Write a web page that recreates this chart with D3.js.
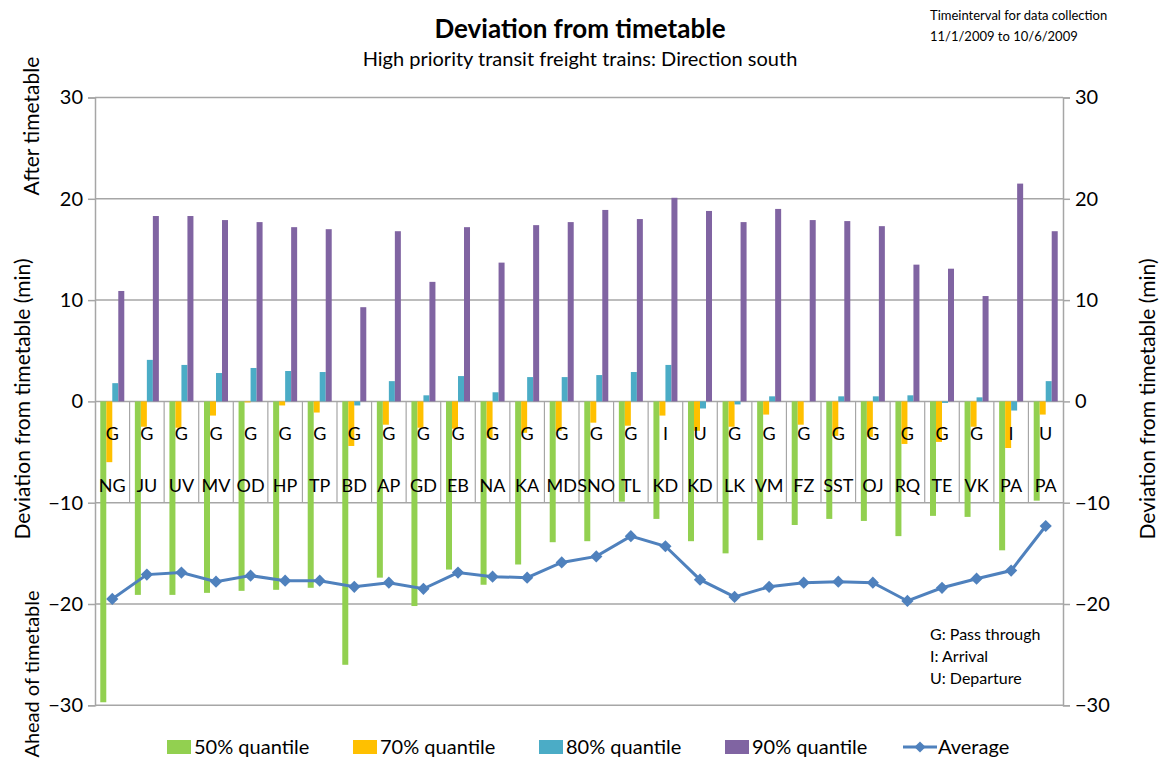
<!DOCTYPE html>
<html>
<head>
<meta charset="utf-8">
<script src="https://cdn.jsdelivr.net/npm/d3@7"></script>
<style>
  body { margin: 0; background: #fff; }
  text { font-family: Lato, "Open Sans", sans-serif; fill: #000; }
</style>
</head>
<body>
<svg id="chart" width="1165" height="765"></svg>
<script>
// stations along the route, and what the train does there
var stations = ["NG","JU","UV","MV","OD","HP","TP","BD","AP","GD","EB","NA","KA","MD",
                "SNO","TL","KD","KD","LK","VM","FZ","SST","OJ","RQ","TE","VK","PA","PA"];
var events = ["G","G","G","G","G","G","G","G","G","G","G","G","G","G",
              "G","G","I","U","G","G","G","G","G","G","G","G","I","U"];

// deviation in minutes
var q50 = [-29.7,-19.1,-19.1,-18.9,-18.7,-18.6,-18.4,-26.0,-17.4,-20.2,-16.6,-18.1,-16.1,-13.9,
           -13.8,-9.9,-11.6,-13.8,-15.0,-13.7,-12.2,-11.6,-11.8,-13.3,-11.3,-11.4,-14.7,-9.8];
var q70 = [-6.0,-2.5,-2.6,-1.4,-0.1,-0.4,-1.1,-4.4,-2.3,-2.6,-2.7,-3.6,-3.1,-2.9,
           -2.1,-2.4,-1.4,-2.9,-2.5,-1.3,-2.3,-3.4,-3.5,-4.2,-4.0,-2.5,-4.6,-1.3];
var q80 = [1.8,4.1,3.6,2.8,3.3,3.0,2.9,-0.4,2.0,0.6,2.5,0.9,2.4,2.4,
           2.6,2.9,3.6,-0.7,-0.3,0.5,0.0,0.5,0.5,0.6,-0.15,0.4,-0.9,2.0];
var q90 = [10.9,18.3,18.3,17.9,17.7,17.2,17.0,9.3,16.8,11.8,17.2,13.7,17.4,17.7,
           18.9,18.0,20.1,18.8,17.7,19.0,17.9,17.8,17.3,13.5,13.1,10.4,21.5,16.8];
var average = [-19.5,-17.1,-16.9,-17.8,-17.2,-17.7,-17.7,-18.3,-17.9,-18.5,-16.9,-17.3,-17.4,-15.9,
               -15.3,-13.3,-14.3,-17.6,-19.3,-18.3,-17.9,-17.8,-17.9,-19.7,-18.4,-17.5,-16.7,-12.3];

var yTicks = [-30,-20,-10,0,10,20,30];
var keyNote = ["G: Pass through", "I: Arrival", "U: Departure"];

var series = [
  {name: "50% quantile", values: q50, color: "#92D050"},
  {name: "70% quantile", values: q70, color: "#FFC000"},
  {name: "80% quantile", values: q80, color: "#4BACC6"},
  {name: "90% quantile", values: q90, color: "#8064A2"}
];
var lineColor = "#4F81BD";

var svg = d3.select("#chart");
var plotLeft = 95, plotRight = 1063, plotTop = 97.5, plotBottom = 705.3;

var y = d3.scaleLinear().domain([-30, 30]).range([plotBottom, plotTop]);
var x0 = d3.scaleBand().domain(d3.range(stations.length)).range([plotLeft, plotRight]);
var x1 = d3.scaleBand().domain(series.map(s => s.name))
    .range([0, x0.bandwidth()]).paddingInner(0).paddingOuter(0.88);

// gridlines
svg.append("g")
    .selectAll("line")
    .data(yTicks)
    .enter().append("line")
    .attr("x1", plotLeft).attr("x2", plotRight)
    .attr("y1", d => y(d)).attr("y2", d => y(d))
    .attr("stroke", "#a6a6a6").attr("stroke-width", 1.5);

// bars
series.forEach(function(s) {
  svg.append("g")
      .selectAll("rect")
      .data(s.values)
      .enter().append("rect")
      .attr("x", (d, i) => x0(i) + x1(s.name))
      .attr("width", x1.bandwidth())
      .attr("y", d => y(Math.max(0, d)))
      .attr("height", d => Math.abs(y(d) - y(0)))
      .attr("fill", s.color);
});

// category boxes (multi level labels)
svg.append("g")
    .selectAll("line")
    .data(d3.range(1, stations.length))
    .enter().append("line")
    .attr("x1", d => x0(d)).attr("x2", d => x0(d))
    .attr("y1", y(0)).attr("y2", y(-10))
    .attr("stroke", "#a6a6a6").attr("stroke-width", 1.2);

svg.append("g")
    .selectAll("text")
    .data(events)
    .enter().append("text")
    .attr("x", (d, i) => x0(i) + x0.bandwidth() / 2)
    .attr("y", 440)
    .attr("text-anchor", "middle")
    .style("font-size", "18px")
    .text(d => d);

svg.append("g")
    .selectAll("text")
    .data(stations)
    .enter().append("text")
    .attr("x", (d, i) => x0(i) + x0.bandwidth() / 2)
    .attr("y", 492)
    .attr("text-anchor", "middle")
    .style("font-size", "18px")
    .text(d => d);

// axes
var axL = svg.append("g")
    .attr("transform", "translate(" + plotLeft + ",0)")
    .call(d3.axisLeft(y).tickValues(yTicks).tickSize(7).tickPadding(5));
var axR = svg.append("g")
    .attr("transform", "translate(" + plotRight + ",0)")
    .call(d3.axisRight(y).tickValues(yTicks).tickSize(7).tickPadding(5));
[axL, axR].forEach(function(ax) {
  ax.select(".domain").attr("stroke", "#a6a6a6").attr("stroke-width", 1.5);
  ax.selectAll(".tick line").attr("stroke", "#a6a6a6").attr("stroke-width", 1.5);
  ax.selectAll(".tick text").style("font-size", "20px")
      .style("font-family", "Lato, sans-serif").attr("fill", "#000");
});

// average line
var line = d3.line()
    .x((d, i) => x0(i) + x0.bandwidth() / 2)
    .y(d => y(d));
svg.append("path")
    .datum(average)
    .attr("d", line)
    .attr("fill", "none")
    .attr("stroke", lineColor)
    .attr("stroke-width", 3);
svg.append("g")
    .selectAll("path")
    .data(average)
    .enter().append("path")
    .attr("d", d3.symbol(d3.symbolDiamond2, 95))
    .attr("transform", (d, i) => "translate(" + (x0(i) + x0.bandwidth() / 2) + "," + y(d) + ")")
    .attr("fill", lineColor);

// titles
svg.append("text")
    .attr("x", 580).attr("y", 38)
    .attr("text-anchor", "middle")
    .style("font-size", "26px").style("font-weight", "bold")
    .text("Deviation from timetable");
svg.append("text")
    .attr("x", 580).attr("y", 66)
    .attr("text-anchor", "middle")
    .style("font-size", "20px")
    .text("High priority transit freight trains: Direction south");
svg.append("text")
    .attr("x", 930).attr("y", 20)
    .style("font-size", "13px")
    .text("Timeinterval for data collection");
svg.append("text")
    .attr("x", 930).attr("y", 41)
    .style("font-size", "13px")
    .text("11/1/2009 to 10/6/2009");

function vtitle(txt, x, cy, size) {
  svg.append("text")
      .attr("transform", "translate(" + x + "," + cy + ") rotate(-90)")
      .attr("text-anchor", "middle")
      .style("font-size", size + "px")
      .text(txt);
}
vtitle("After timetable", 39, 126, 21);
vtitle("Deviation from timetable (min)", 30, 399, 21);
vtitle("Ahead of timetable", 39, 674, 20);
vtitle("Deviation from timetable (min)", 1155, 399, 21);

// note about the letters
svg.append("g")
    .selectAll("text")
    .data(keyNote)
    .enter().append("text")
    .attr("x", 930)
    .attr("y", (d, i) => 640 + i * 22)
    .style("font-size", "16px")
    .text(d => d);

// legend
var legend = svg.append("g").attr("transform", "translate(159,747)");
var items = series.map(s => ({name: s.name, color: s.color, type: "bar"}))
    .concat([{name: "Average", color: lineColor, type: "line"}]);
var leg = legend.selectAll("g")
    .data(items)
    .enter().append("g")
    .attr("transform", (d, i) => "translate(" + (i * 186) + ",0)");
leg.filter(d => d.type == "bar").append("rect")
    .attr("x", 8).attr("y", -7).attr("width", 24).attr("height", 14)
    .attr("fill", d => d.color);
leg.filter(d => d.type == "line").append("line")
    .attr("x1", 0).attr("x2", 34).attr("y1", 0).attr("y2", 0)
    .attr("stroke", d => d.color).attr("stroke-width", 3);
leg.filter(d => d.type == "line").append("path")
    .attr("d", d3.symbol(d3.symbolDiamond2, 80))
    .attr("transform", "translate(17,0)")
    .attr("fill", d => d.color);
leg.append("text")
    .attr("x", 35)
    .attr("y", 7)
    .style("font-size", "20px")
    .text(d => d.name);
</script>
</body>
</html>
